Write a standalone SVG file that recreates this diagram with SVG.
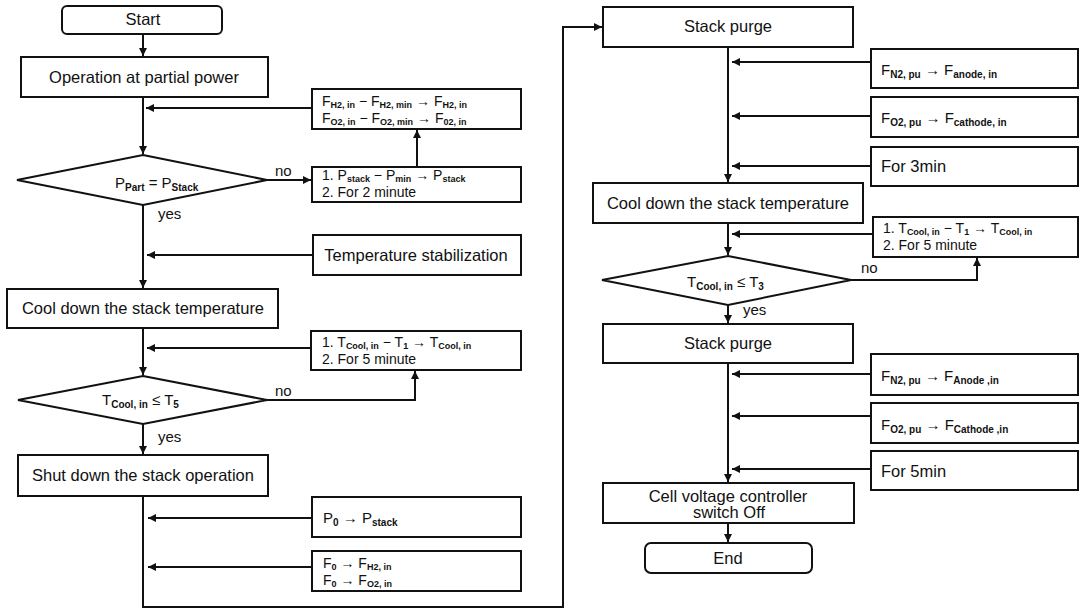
<svg xmlns="http://www.w3.org/2000/svg" width="1080" height="610" viewBox="0 0 1080 610">
<style>
  .bx{fill:#fff;stroke:#111;stroke-width:2}
  .ln{fill:none;stroke:#111;stroke-width:2}
  text{font-family:"Liberation Sans",Arial,sans-serif;fill:#111}
  .m{font-size:16.5px;text-anchor:middle}
  .t{font-size:15px}
  .t2{font-size:14px}
  .s{font-size:10px;font-weight:bold}
  .s2{font-size:9px;font-weight:bold}
  .lb{font-size:15px}
</style>
<defs>
  <marker id="ah" markerUnits="userSpaceOnUse" markerWidth="9" markerHeight="8" refX="8" refY="4" orient="auto">
    <path d="M0,0 L8,4 L0,8 z" fill="#111"/>
  </marker>
</defs>
<rect width="1080" height="610" fill="#fff"/>

<g id="connectors">
  <path class="ln" d="M143,34 V56" marker-end="url(#ah)"/>
  <path class="ln" d="M143,97 V154" marker-end="url(#ah)"/>
  <path class="ln" d="M312,108 H146" marker-end="url(#ah)"/>
  <path class="ln" d="M267,180 H311" marker-end="url(#ah)"/>
  <path class="ln" d="M417,167 V130" marker-end="url(#ah)"/>
  <path class="ln" d="M143,205 V288" marker-end="url(#ah)"/>
  <path class="ln" d="M313,255 H147" marker-end="url(#ah)"/>
  <path class="ln" d="M143,328 V375" marker-end="url(#ah)"/>
  <path class="ln" d="M311,348 H147" marker-end="url(#ah)"/>
  <path class="ln" d="M267,400 H415 V371" marker-end="url(#ah)"/>
  <path class="ln" d="M143,424 V454" marker-end="url(#ah)"/>
  <path class="ln" d="M312,518 H148" marker-end="url(#ah)"/>
  <path class="ln" d="M312,567 H148" marker-end="url(#ah)"/>
  <path class="ln" d="M143,496 V607 H563 V27 H602" marker-end="url(#ah)"/>

  <path class="ln" d="M728,47 V182" marker-end="url(#ah)"/>
  <path class="ln" d="M871,62 H732" marker-end="url(#ah)"/>
  <path class="ln" d="M871,116 H732" marker-end="url(#ah)"/>
  <path class="ln" d="M871,166 H732" marker-end="url(#ah)"/>
  <path class="ln" d="M728,223 V255" marker-end="url(#ah)"/>
  <path class="ln" d="M873,234 H732" marker-end="url(#ah)"/>
  <path class="ln" d="M851,280 H977 V258" marker-end="url(#ah)"/>
  <path class="ln" d="M728,305 V323" marker-end="url(#ah)"/>
  <path class="ln" d="M728,363 V482" marker-end="url(#ah)"/>
  <path class="ln" d="M871,374 H732" marker-end="url(#ah)"/>
  <path class="ln" d="M871,416 H732" marker-end="url(#ah)"/>
  <path class="ln" d="M871,469 H732" marker-end="url(#ah)"/>
  <path class="ln" d="M728,523 V542" marker-end="url(#ah)"/>
</g>

<g id="start">
  <rect class="bx" x="62" y="6" width="160" height="28" rx="5"/>
  <text class="m" x="143" y="25">Start</text>
</g>
<g id="op-partial">
  <rect class="bx" x="21" y="57" width="247" height="40"/>
  <text class="m" x="144" y="83">Operation at partial power</text>
</g>
<g id="flow-reduce">
  <rect class="bx" x="312" y="89" width="209" height="40"/>
  <text class="t2" x="322" y="106">F<tspan class="s2" dy="2">H2, in</tspan><tspan dy="-2"> − F</tspan><tspan class="s2" dy="2">H2, min</tspan><tspan dy="-2"> → F</tspan><tspan class="s2" dy="2">H2, in</tspan></text>
  <text class="t2" x="322" y="123">F<tspan class="s2" dy="2">O2, in</tspan><tspan dy="-2"> − F</tspan><tspan class="s2" dy="2">O2, min</tspan><tspan dy="-2"> → F</tspan><tspan class="s2" dy="2">02, in</tspan></text>
</g>
<g id="dec-power">
  <polygon class="bx" points="143,155 267,180 143,205 17,180"/>
  <text class="t" x="115" y="188">P<tspan class="s" dy="3">Part</tspan><tspan dy="-3"> = P</tspan><tspan class="s" dy="3">Stack</tspan></text>
  <text class="lb" x="275" y="176">no</text>
  <text class="lb" x="158" y="219">yes</text>
</g>
<g id="power-reduce">
  <rect class="bx" x="312" y="167" width="209" height="35"/>
  <text class="t2" x="322" y="180">1. P<tspan class="s2" dy="2">stack</tspan><tspan dy="-2"> − P</tspan><tspan class="s2" dy="2">min</tspan><tspan dy="-2"> → P</tspan><tspan class="s2" dy="2">stack</tspan></text>
  <text class="t2" x="322" y="197">2. For 2 minute</text>
</g>
<g id="temp-stab">
  <rect class="bx" x="313" y="235" width="208" height="40"/>
  <text class="m" x="416" y="261">Temperature stabilization</text>
</g>
<g id="cool1">
  <rect class="bx" x="7" y="289" width="271" height="39"/>
  <text class="m" x="143" y="314">Cool down the stack temperature</text>
</g>
<g id="tcool1">
  <rect class="bx" x="311" y="331" width="210" height="39"/>
  <text class="t2" x="322" y="347">1. T<tspan class="s2" dy="2">Cool, in</tspan><tspan dy="-2"> − T</tspan><tspan class="s2" dy="2">1</tspan><tspan dy="-2"> → T</tspan><tspan class="s2" dy="2">Cool, in</tspan></text>
  <text class="t2" x="322" y="364">2. For 5 minute</text>
</g>
<g id="dec-t5">
  <polygon class="bx" points="143,376 267,400 143,424 18,400"/>
  <text class="t" x="102" y="405">T<tspan class="s" dy="3">Cool, in</tspan><tspan dy="-3"> ≤ T</tspan><tspan class="s" dy="3">5</tspan></text>
  <text class="lb" x="275" y="396">no</text>
  <text class="lb" x="158" y="442">yes</text>
</g>
<g id="shutdown">
  <rect class="bx" x="18" y="455" width="250" height="41"/>
  <text class="m" x="143" y="481">Shut down the stack operation</text>
</g>
<g id="p0">
  <rect class="bx" x="312" y="497" width="209" height="40"/>
  <text class="t" x="323" y="523">P<tspan class="s" dy="3">0</tspan><tspan dy="-3"> → P</tspan><tspan class="s" dy="3">stack</tspan></text>
</g>
<g id="f0">
  <rect class="bx" x="312" y="551" width="209" height="40"/>
  <text class="t2" x="323" y="568">F<tspan class="s2" dy="2">0</tspan><tspan dy="-2"> → F</tspan><tspan class="s2" dy="2">H2, in</tspan></text>
  <text class="t2" x="323" y="585">F<tspan class="s2" dy="2">0</tspan><tspan dy="-2"> → F</tspan><tspan class="s2" dy="2">O2, in</tspan></text>
</g>

<g id="purge1">
  <rect class="bx" x="603" y="7" width="250" height="40"/>
  <text class="m" x="728" y="32">Stack purge</text>
</g>
<g id="fn2-a">
  <rect class="bx" x="871" y="49" width="207" height="39"/>
  <text class="t" x="881" y="75">F<tspan class="s" dy="3">N2, pu</tspan><tspan dy="-3"> → F</tspan><tspan class="s" dy="3">anode, in</tspan></text>
</g>
<g id="fo2-a">
  <rect class="bx" x="871" y="97" width="207" height="40"/>
  <text class="t" x="881" y="123">F<tspan class="s" dy="3">O2, pu</tspan><tspan dy="-3"> → F</tspan><tspan class="s" dy="3">cathode, in</tspan></text>
</g>
<g id="for3">
  <rect class="bx" x="871" y="147" width="207" height="39"/>
  <text class="t" x="881" y="172" style="font-size:16.5px">For 3min</text>
</g>
<g id="cool2">
  <rect class="bx" x="593" y="183" width="270" height="40"/>
  <text class="m" x="728" y="209">Cool down the stack temperature</text>
</g>
<g id="tcool2">
  <rect class="bx" x="873" y="217" width="205" height="40"/>
  <text class="t2" x="883" y="233">1. T<tspan class="s2" dy="2">Cool, in</tspan><tspan dy="-2"> − T</tspan><tspan class="s2" dy="2">1</tspan><tspan dy="-2"> → T</tspan><tspan class="s2" dy="2">Cool, in</tspan></text>
  <text class="t2" x="883" y="250">2. For 5 minute</text>
</g>
<g id="dec-t3">
  <polygon class="bx" points="728,256 851,280 728,305 602,280"/>
  <text class="t" x="687" y="287">T<tspan class="s" dy="3">Cool, in</tspan><tspan dy="-3"> ≤ T</tspan><tspan class="s" dy="3">3</tspan></text>
  <text class="lb" x="861" y="273">no</text>
  <text class="lb" x="743" y="315">yes</text>
</g>
<g id="purge2">
  <rect class="bx" x="603" y="324" width="250" height="39"/>
  <text class="m" x="728" y="349">Stack purge</text>
</g>
<g id="fn2-b">
  <rect class="bx" x="871" y="354" width="207" height="41"/>
  <text class="t" x="881" y="381">F<tspan class="s" dy="3">N2, pu</tspan><tspan dy="-3"> → F</tspan><tspan class="s" dy="3">Anode ,in</tspan></text>
</g>
<g id="fo2-b">
  <rect class="bx" x="871" y="403" width="207" height="40"/>
  <text class="t" x="881" y="430">F<tspan class="s" dy="3">O2, pu</tspan><tspan dy="-3"> → F</tspan><tspan class="s" dy="3">Cathode ,in</tspan></text>
</g>
<g id="for5">
  <rect class="bx" x="871" y="451" width="207" height="39"/>
  <text class="t" x="881" y="477" style="font-size:16.5px">For 5min</text>
</g>
<g id="cellv">
  <rect class="bx" x="603" y="483" width="251" height="40"/>
  <text class="m" x="728" y="502">Cell voltage controller</text>
  <text class="m" x="729" y="518">switch Off</text>
</g>
<g id="end">
  <rect class="bx" x="645" y="543" width="167" height="30" rx="6"/>
  <text class="m" x="728" y="564">End</text>
</g>
</svg>
